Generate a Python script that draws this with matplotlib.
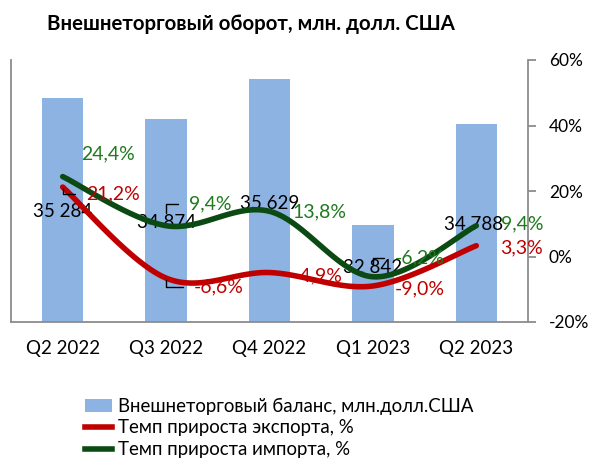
import matplotlib
matplotlib.use("Agg")
import matplotlib.pyplot as plt
import numpy as np
from matplotlib.patches import Patch
from matplotlib.lines import Line2D

plt.rcParams['font.family'] = ['Lato', 'DejaVu Sans']

# data
quarters = ['Q2 2022', 'Q3 2022', 'Q4 2022', 'Q1 2023', 'Q2 2023']
turnover = [35284, 34874, 35629, 32842, 34788]
export_growth = [21.2, -6.6, -4.9, -9.0, 3.3]
import_growth = [24.4, 9.4, 13.8, -6.2, 9.4]

bar_color = '#8DB3E2'
red = '#C00000'
dgreen = '#0B4A12'
txt_green = '#1E7B1E'
txt_red = '#C00000'


def smooth(y, n=30):
    # Excel-like smoothed line: cubic bezier through the points
    x = np.arange(len(y), dtype=float)
    y = np.asarray(y, dtype=float)
    px = np.concatenate([[x[0]], x, [x[-1]]])
    py = np.concatenate([[y[0]], y, [y[-1]]])
    xs, ys = [], []
    t = np.linspace(0, 1, n)
    for i in range(len(y) - 1):
        p0 = np.array([px[i + 1], py[i + 1]])
        p3 = np.array([px[i + 2], py[i + 2]])
        p1 = p0 + (np.array([px[i + 2], py[i + 2]]) - np.array([px[i], py[i]])) / 6
        p2 = p3 - (np.array([px[i + 3], py[i + 3]]) - np.array([px[i + 1], py[i + 1]])) / 6
        b = ((1 - t) ** 3)[:, None] * p0 + (3 * (1 - t) ** 2 * t)[:, None] * p1 \
            + (3 * (1 - t) * t ** 2)[:, None] * p2 + (t ** 3)[:, None] * p3
        xs.extend(b[:, 0])
        ys.extend(b[:, 1])
    return np.array(xs), np.array(ys)


fig = plt.figure(figsize=(5.92, 4.59), dpi=100)
ax = fig.add_axes([11 / 592, 1 - 322 / 459, 517 / 592, 262 / 459])
x = np.arange(len(quarters))
ax.bar(x, turnover, width=0.4, color=bar_color, zorder=1)
ax.set_ylim(31000, 36000)
ax.set_xlim(-0.5, 4.5)
ax.set_yticks([])
ax.set_xticks(x)
ax.set_xticklabels(quarters, fontsize=13.5)
ax.tick_params(axis='x', length=0, pad=13)
for s in ['top', 'right']:
    ax.spines[s].set_visible(False)
ax.spines['left'].set_color('#8C8C8C')
ax.spines['bottom'].set_color('#8C8C8C')
ax.spines['left'].set_linewidth(1.3)
ax.spines['bottom'].set_linewidth(1.3)

ax2 = ax.twinx()
ax2.set_ylim(-20, 60)
ax2.set_yticks([-20, 0, 20, 40, 60])
ax2.set_yticklabels(['-20%', '0%', '20%', '40%', '60%'], fontsize=12.5)
ax2.tick_params(axis='y', direction='out', length=6, width=1.3, color='#8C8C8C', pad=9)
for s in ['top', 'left', 'bottom']:
    ax2.spines[s].set_visible(False)
ax2.spines['right'].set_color('#8C8C8C')
ax2.spines['right'].set_linewidth(1.3)

sx, sy = smooth(export_growth)
ax2.plot(sx, sy, color=red, lw=4, solid_capstyle='round', zorder=3)
sx, sy = smooth(import_growth)
ax2.plot(sx, sy, color=dgreen, lw=4, solid_capstyle='round', zorder=3)

# bar value labels (offsets in pixels from bar top)
bar_offsets = [(0, -114), (0, -103), (0, -124), (0, -42), (-3, -101)]
for i, v in enumerate(turnover):
    ax.annotate(f'{v:,}'.replace(',', ' '), xy=(i, v), xytext=bar_offsets[i],
                textcoords='offset pixels', ha='center', va='center', fontsize=13.5,
                color='black', zorder=5, annotation_clip=False)

lead = dict(arrowstyle='-', color='black', lw=1.0, relpos=(0, 0.5),
            connectionstyle='angle,angleA=0,angleB=90,rad=0')

imp_offsets = [(45, 23), (44, 22), (50, -1), (47, 19), (46, 2)]
imp_leader = [False, True, False, True, False]
for i, v in enumerate(import_growth):
    kw = {}
    if imp_leader[i]:
        kw['arrowprops'] = dict(lead, shrinkA=6, shrinkB=9)
    ax2.annotate(f'{v:.1f}%'.replace('.', ','), xy=(i, v), xytext=imp_offsets[i],
                 textcoords='offset pixels', ha='center', va='center', fontsize=14,
                 color=txt_green, zorder=6, annotation_clip=False, **kw)

exp_offsets = [(50, -7), (53, -9), (48, -3), (47, -3), (45, -2)]
exp_leader = [True, True, False, False, False]
for i, v in enumerate(export_growth):
    kw = {}
    if exp_leader[i]:
        kw['arrowprops'] = dict(lead, shrinkA=6, shrinkB=1)
    ax2.annotate(f'{v:.1f}%'.replace('.', ','), xy=(i, v), xytext=exp_offsets[i],
                 textcoords='offset pixels', ha='center', va='center', fontsize=14,
                 color=txt_red, zorder=6, annotation_clip=False, **kw)

fig.text(251 / 592, 1 - 24 / 459, 'Внешнеторговый оборот, млн. долл. США',
         ha='center', va='center', fontsize=14.7, fontweight='bold')

handles = [Patch(facecolor=bar_color, edgecolor='none'),
           Line2D([], [], color=red, lw=4),
           Line2D([], [], color=dgreen, lw=4)]
labels = ['Внешнеторговый баланс, млн.долл.США',
          'Темп прироста экспорта, %',
          'Темп прироста импорта, %']
fig.legend(handles, labels, loc='upper left', bbox_to_anchor=(78 / 592, 1 - 390 / 459),
           frameon=False, fontsize=13.4, handlelength=1.45, handletextpad=0.3,
           labelspacing=0.26, borderaxespad=0)

fig.savefig('out.png', dpi=100)
